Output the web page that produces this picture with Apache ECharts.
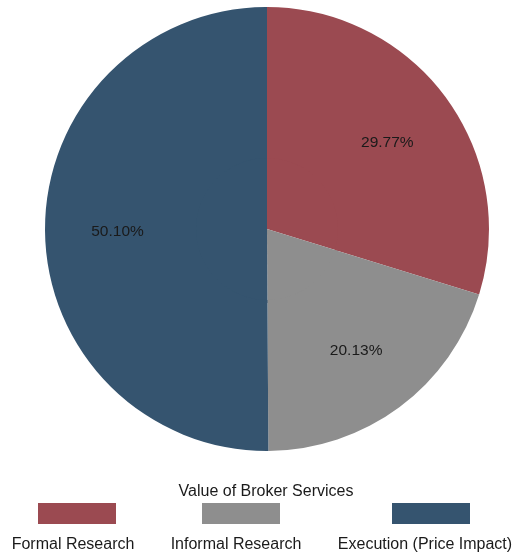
<!DOCTYPE html>
<html>
<head>
<meta charset="utf-8">
<script src="https://cdn.jsdelivr.net/npm/echarts@6/dist/echarts.min.js"></script>
<style>
  html, body { margin: 0; padding: 0; background: #ffffff; }
  #chart { width: 514px; height: 559px; }
</style>
</head>
<body>
<div id="chart"></div>
<script>
// Broker service value shares
const categories = ['Formal Research', 'Informal Research', 'Execution (Price Impact)'];
const shares = [29.77, 20.13, 50.10];
const colors = ['#9B4A51', '#8E8E8E', '#35546F'];
const legendTitle = 'Value of Broker Services';

const FONT = '"Liberation Sans", Arial, Helvetica, sans-serif';
const cx = 267, cy = 229, R = 222;
// labels sit near two thirds of the radius: ring from rInner to R, inner disk fills the hole
const rInner = R / 3 - 3;

const pieData = categories.map((name, i) => ({
  name: name,
  value: shares[i],
  itemStyle: { color: colors[i] }
}));

// legend swatch positions and text centres
const swatchLeft = [38, 202, 392];
const textCentre = [73, 236, 425];
const swatchW = 78, swatchH = 21, swatchTop = 503;

const chart = echarts.init(document.getElementById('chart'), null, { renderer: 'canvas' });

const legends = categories.map((name, i) => ({
  data: [name],
  left: swatchLeft[i],
  top: swatchTop,
  padding: 0,
  itemGap: 0,
  itemWidth: swatchW,
  itemHeight: swatchH,
  icon: 'rect',
  formatter: () => '',
  textStyle: { fontSize: 1, padding: 0 },
  selectedMode: false
}));

const legendTexts = categories.map((name, i) => ({
  type: 'text',
  x: textCentre[i],
  y: 545,
  style: {
    text: name,
    fill: '#1a1a1a',
    font: '16px ' + FONT,
    textAlign: 'center',
    textVerticalAlign: 'middle'
  }
}));

chart.setOption({
  animation: false,
  backgroundColor: '#ffffff',
  legend: legends,
  graphic: [
    {
      type: 'text',
      x: 266,
      y: 492,
      style: {
        text: legendTitle,
        fill: '#1a1a1a',
        font: '16px ' + FONT,
        textAlign: 'center',
        textVerticalAlign: 'middle'
      }
    }
  ].concat(legendTexts),
  series: [
    {
      type: 'pie',
      center: [cx, cy],
      radius: [0, rInner + 3],
      startAngle: 90,
      clockwise: true,
      silent: true,
      label: { show: false },
      labelLine: { show: false },
      emphasis: { disabled: true },
      itemStyle: { borderWidth: 0 },
      data: pieData
    },
    {
      type: 'pie',
      center: [cx, cy],
      radius: [rInner, R],
      startAngle: 90,
      clockwise: true,
      avoidLabelOverlap: false,
      emphasis: { disabled: true },
      itemStyle: { borderWidth: 0 },
      label: {
        show: true,
        position: 'inside',
        formatter: p => p.value.toFixed(2) + '%',
        color: '#1a1a1a',
        fontSize: 15.5,
        fontFamily: FONT,
        offset: [0, 2]
      },
      labelLine: { show: false },
      data: pieData
    }
  ]
});
</script>
</body>
</html>
